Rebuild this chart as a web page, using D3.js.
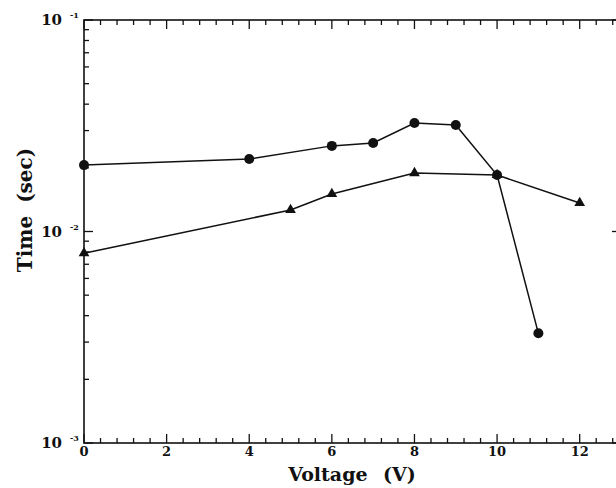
<!DOCTYPE html>
<html>
<head>
<meta charset="utf-8">
<script src="https://cdn.jsdelivr.net/npm/d3@7"></script>
<style>
  body { margin: 0; background: #fff; overflow: hidden; }
  text { font-family: "DejaVu Serif", "Liberation Serif", serif; font-weight: bold; fill: #111; }
</style>
</head>
<body>
<div id="chart"></div>
<script>
// data
var circleV = [0, 4, 6, 7, 8, 9, 10, 11];
var circleT = [0.0206, 0.0220, 0.0254, 0.0262, 0.0326, 0.0319, 0.0185, 0.0033];
var triV = [0, 5, 6, 8, 10, 12];
var triT = [0.0079, 0.01264, 0.01504, 0.0189, 0.0185, 0.01365];
var xMajor = [0, 2, 4, 6, 8, 10, 12];
var yMajor = [1e-3, 1e-2, 1e-1];
var yExp = ["-3", "-2", "-1"];

// the plot runs a little past the right edge of the picture
var margin = {top: 20, left: 84},
    width = 537,
    height = 423;

var x = d3.scaleLinear().domain([0, 13]).range([0, width]);
var y = d3.scaleLog().domain([1e-3, 1e-1]).range([height, 0]);

var svg = d3.select("#chart").append("svg")
    .attr("width", 616)
    .attr("height", 488)
  .append("g")
    .attr("transform", "translate(" + margin.left + "," + margin.top + ")");

// frame
svg.append("rect")
    .attr("width", width).attr("height", height)
    .attr("fill", "none").attr("stroke", "#111").attr("stroke-width", 1.6);

// x ticks, inward on bottom and top
var xMinor = d3.range(0, 13.01, 0.4).filter(function(d) { return Math.abs(d / 2 - Math.round(d / 2)) > 0.01; });
function xTicks(vals, len) {
  svg.selectAll(null).data(vals).enter().append("line")
      .attr("x1", function(d) { return x(d); }).attr("x2", function(d) { return x(d); })
      .attr("y1", height).attr("y2", height - len)
      .attr("stroke", "#111").attr("stroke-width", 1.3);
  svg.selectAll(null).data(vals).enter().append("line")
      .attr("x1", function(d) { return x(d); }).attr("x2", function(d) { return x(d); })
      .attr("y1", 0).attr("y2", len)
      .attr("stroke", "#111").attr("stroke-width", 1.3);
}
xTicks(xMajor, 9);
xTicks(xMinor, 5);

// y ticks (log), inward left and right
var yMinor = [];
[1e-3, 1e-2].forEach(function(b) { for (var k = 2; k <= 9; k++) yMinor.push(b * k); });
function yTicks(vals, len) {
  svg.selectAll(null).data(vals).enter().append("line")
      .attr("y1", function(d) { return y(d); }).attr("y2", function(d) { return y(d); })
      .attr("x1", 0).attr("x2", len)
      .attr("stroke", "#111").attr("stroke-width", 1.3);
  svg.selectAll(null).data(vals).enter().append("line")
      .attr("y1", function(d) { return y(d); }).attr("y2", function(d) { return y(d); })
      .attr("x1", width).attr("x2", width - len)
      .attr("stroke", "#111").attr("stroke-width", 1.3);
}
yTicks(yMajor, 9);
yTicks(yMinor, 5);

// x tick labels
svg.selectAll(null).data(xMajor).enter().append("text")
    .attr("x", function(d) { return x(d); })
    .attr("y", height + 13)
    .attr("text-anchor", "middle")
    .style("font-size", "13px")
    .text(function(d) { return d; });

// y tick labels 10^n
yMajor.forEach(function(d, i) {
  svg.append("text")
      .attr("x", -22).attr("y", y(d) + 5)
      .attr("text-anchor", "end")
      .style("font-size", "15px")
      .text("10");
  svg.append("text")
      .attr("x", -14).attr("y", y(d) - 2)
      .attr("text-anchor", "start")
      .style("font-size", "8px")
      .text(yExp[i]);
});

// axis titles
svg.append("text")
    .attr("x", 352 - margin.left).attr("y", height + 38)
    .attr("text-anchor", "middle")
    .attr("word-spacing", "9px")
    .style("font-size", "19px")
    .text("Voltage (V)");
svg.append("text")
    .attr("transform", "translate(" + (-52) + "," + (210 - margin.top) + ") rotate(-90)")
    .attr("text-anchor", "middle")
    .attr("word-spacing", "6px")
    .style("font-size", "20px")
    .text("Time (sec)");

var line = d3.line()
    .x(function(d) { return x(d[0]); })
    .y(function(d) { return y(d[1]); });

var circles = d3.zip(circleV, circleT);
var tris = d3.zip(triV, triT);

svg.append("path").datum(tris)
    .attr("d", line).attr("fill", "none").attr("stroke", "#111").attr("stroke-width", 1.5);
svg.append("path").datum(circles)
    .attr("d", line).attr("fill", "none").attr("stroke", "#111").attr("stroke-width", 1.5);

svg.selectAll(".tri").data(tris).enter().append("path")
    .attr("class", "tri")
    .attr("transform", function(d) { return "translate(" + x(d[0]) + "," + y(d[1]) + ")"; })
    .attr("d", d3.symbol().type(d3.symbolTriangle).size(50))
    .attr("fill", "#111");

svg.selectAll(".dot").data(circles).enter().append("circle")
    .attr("class", "dot")
    .attr("cx", function(d) { return x(d[0]); })
    .attr("cy", function(d) { return y(d[1]); })
    .attr("r", 5)
    .attr("fill", "#111");
</script>
</body>
</html>
